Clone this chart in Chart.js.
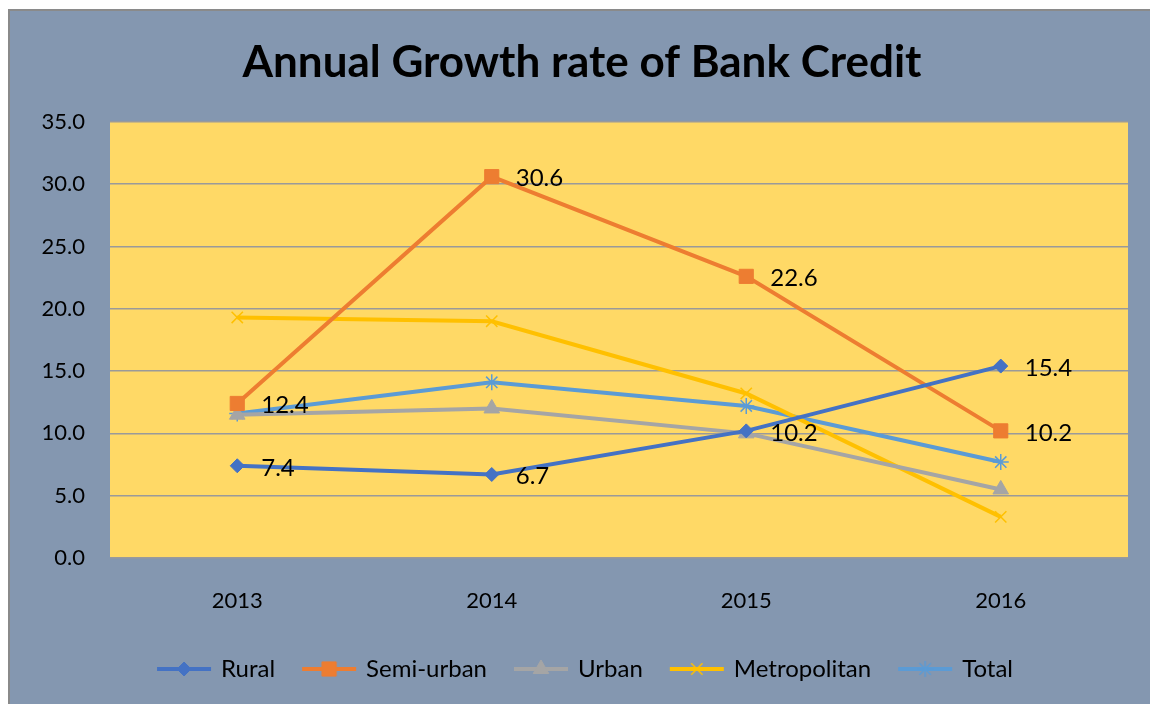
<!DOCTYPE html>
<html>
<head>
<meta charset="utf-8">
<script src="https://cdn.jsdelivr.net/npm/chart.js@4.4.0/dist/chart.umd.min.js"></script>
<style>
  body { margin: 0; background: #ffffff; }
  #box {
    position: absolute; left: 8px; top: 9px;
    width: 1142px; height: 695px;
    border-top: 2px solid #8a8a8a; border-left: 2px solid #8a8a8a;
    background: #8497B0; box-sizing: border-box;
  }
  canvas { display: block; }
</style>
</head>
<body>
<div id="box"><canvas id="chart" width="1140" height="693"></canvas></div>
<script>
// data
const years = ['2013', '2014', '2015', '2016'];
const rural = [7.4, 6.7, 10.2, 15.4];
const semiUrban = [12.4, 30.6, 22.6, 10.2];
const urban = [11.5, 12.0, 10.0, 5.5];
const metropolitan = [19.3, 19.0, 13.2, 3.3];
const total = [11.6, 14.1, 12.2, 7.7];

const fontFam = 'Lato, "Open Sans", sans-serif';

function series(label, data, color, style, radius, showLabels) {
    return {
        label: label,
        data: data,
        borderColor: color,
        backgroundColor: color,
        borderWidth: 4,
        pointStyle: style,
        pointRadius: radius,
        pointHoverRadius: radius,
        pointBorderWidth: (style === 'crossRot' || style === 'star') ? 1.5 : 1,
        pointBorderColor: color,
        pointBackgroundColor: color,
        tension: 0,
        fill: false,
        showLabels: showLabels
    };
}

const datasets = [
    series('Rural', rural, '#4472C4', 'rectRot', 7, true),
    series('Semi-urban', semiUrban, '#ED7D31', 'rect', 10, true),
    series('Urban', urban, '#A5A5A5', 'triangle', 9, false),
    series('Metropolitan', metropolitan, '#FFC000', 'crossRot', 8, false),
    series('Total', total, '#5B9BD5', 'star', 8, false)
];

// little line + marker pictures for the legend
function legendIcon(ds) {
    const c = document.createElement('canvas');
    c.width = 58; c.height = 22;
    const g = c.getContext('2d');
    g.strokeStyle = ds.borderColor;
    g.lineWidth = 4;
    g.beginPath();
    g.moveTo(2, 11);
    g.lineTo(56, 11);
    g.stroke();
    g.fillStyle = ds.borderColor;
    g.strokeStyle = ds.borderColor;
    g.lineWidth = ds.pointBorderWidth;
    Chart.helpers.drawPoint(g, {pointStyle: ds.pointStyle, radius: ds.pointRadius, rotation: 0, borderWidth: ds.pointBorderWidth}, 29, 11);
    return c;
}

const plotBg = {
    id: 'plotBg',
    afterLayout(chart) {
        // nudge title and legend to where the original has them
        chart.titleBlock.left += 13;
        chart.titleBlock.right += 13;
        chart.legend.left += 17;
        chart.legend.right += 17;
    },
    beforeDraw(chart) {
        const a = chart.chartArea;
        const ctx = chart.ctx;
        ctx.save();
        ctx.fillStyle = '#FFD966';
        ctx.fillRect(a.left, a.top, a.right - a.left, a.bottom - a.top);
        ctx.restore();
    }
};

const valueLabels = {
    id: 'valueLabels',
    afterDatasetsDraw(chart) {
        const ctx = chart.ctx;
        ctx.save();
        ctx.font = '24px ' + fontFam;
        ctx.fillStyle = '#000000';
        ctx.textAlign = 'left';
        ctx.textBaseline = 'middle';
        chart.data.datasets.forEach((ds, i) => {
            if (!ds.showLabels) return;
            chart.getDatasetMeta(i).data.forEach((pt, j) => {
                ctx.fillText(ds.data[j].toFixed(1), pt.x + 24, pt.y + 2);
            });
        });
        ctx.restore();
    }
};

new Chart(document.getElementById('chart'), {
    type: 'line',
    data: { labels: years, datasets: datasets },
    options: {
        responsive: false,
        animation: false,
        layout: { padding: { left: 0, right: 22, top: 0, bottom: 13 } },
        scales: {
            x: {
                offset: true,
                grid: { display: false, drawTicks: false },
                border: { display: false },
                ticks: { color: '#000', font: { family: fontFam, size: 22 }, padding: 30 },
                afterFit(scale) { scale.height = 70; }
            },
            y: {
                min: 0,
                max: 35,
                grid: { color: '#9a9a9a', lineWidth: 1.5, drawTicks: false },
                border: { display: false },
                ticks: {
                    stepSize: 5,
                    color: '#000',
                    font: { family: fontFam, size: 22 },
                    padding: 25,
                    callback: v => v.toFixed(1)
                },
                afterFit(scale) { scale.width = 100; }
            }
        },
        plugins: {
            title: {
                display: true,
                text: 'Annual Growth rate of Bank Credit',
                color: '#000',
                font: { family: fontFam, size: 44, weight: 'bold' },
                padding: { top: 25, bottom: 33 }
            },
            legend: {
                position: 'bottom',
                labels: {
                    color: '#000',
                    font: { family: fontFam, size: 24 },
                    usePointStyle: true,
                    pointStyleWidth: 50,
                    padding: 29,
                    generateLabels(chart) {
                        return chart.data.datasets.map((ds, i) => ({
                            text: ds.label,
                            pointStyle: legendIcon(ds),
                            fillStyle: ds.borderColor,
                            strokeStyle: ds.borderColor,
                            lineWidth: 0,
                            fontColor: '#000',
                            hidden: false,
                            datasetIndex: i
                        }));
                    }
                }
            },
            tooltip: { enabled: false }
        }
    },
    plugins: [plotBg, valueLabels]
});
</script>
</body>
</html>
